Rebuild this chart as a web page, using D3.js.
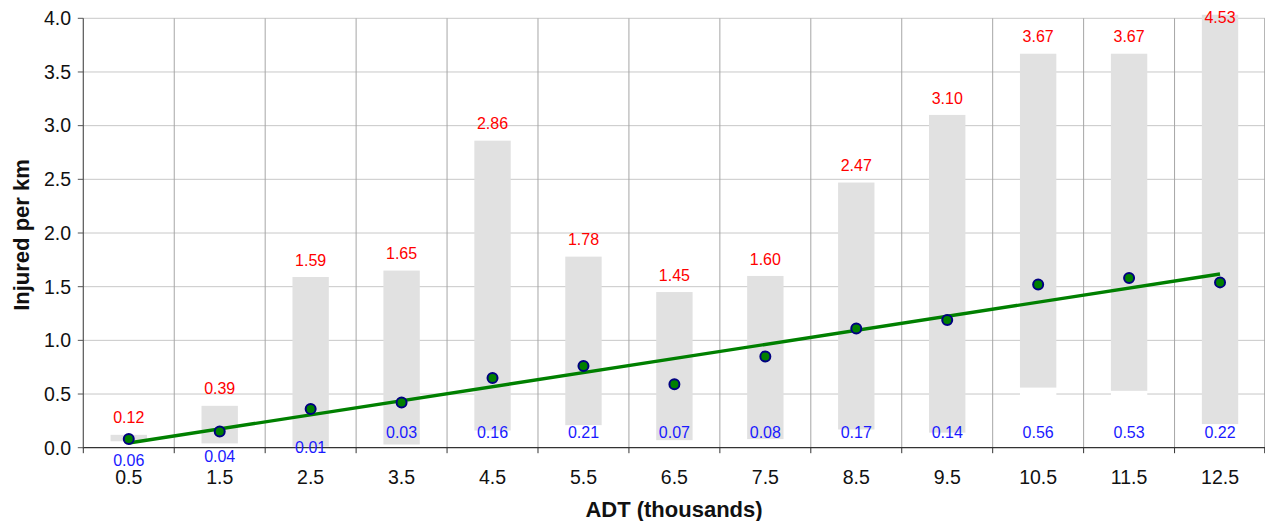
<!DOCTYPE html>
<html>
<head>
<meta charset="utf-8">
<script src="https://cdn.jsdelivr.net/npm/d3@7"></script>
<style>
  html, body { margin: 0; padding: 0; background: #fff; }
  svg { display: block; font-family: Arial, "Liberation Sans", sans-serif; }
</style>
</head>
<body>
<svg id="chart" width="1265" height="521"></svg>
<script>
// ADT classes (thousands of vehicles per day)
const categories = ["0.5", "1.5", "2.5", "3.5", "4.5", "5.5", "6.5", "7.5", "8.5", "9.5", "10.5", "11.5", "12.5"];
// Range of injured per km within each class
const maxValues = [0.12, 0.39, 1.59, 1.65, 2.86, 1.78, 1.45, 1.60, 2.47, 3.10, 3.67, 3.67, 4.53];
const minValues = [0.06, 0.04, 0.01, 0.03, 0.16, 0.21, 0.07, 0.08, 0.17, 0.14, 0.56, 0.53, 0.22];
// Mean injured per km within each class
const meanValues = [0.08, 0.15, 0.36, 0.42, 0.65, 0.76, 0.59, 0.85, 1.11, 1.19, 1.52, 1.58, 1.54];
const yTicks = [0, 0.5, 1, 1.5, 2, 2.5, 3, 3.5, 4];

const svg = d3.select("#chart");
const plotLeft = 83.3, plotRight = 1265.5, plotTop = 18.3, plotBottom = 447.7;

const x = d3.scaleBand().domain(categories).range([plotLeft, plotRight]).paddingInner(0).paddingOuter(0);
const y = d3.scaleLinear().domain([0, 4]).range([plotBottom, plotTop]);
const barW = x.bandwidth() * 0.4;
const cx = c => x(c) + x.bandwidth() / 2;

// clip for the bars (slightly taller than the plot area)
svg.append("defs").append("clipPath").attr("id", "plotClip")
  .append("rect").attr("x", plotLeft).attr("y", plotTop - 3.5)
  .attr("width", plotRight - plotLeft).attr("height", plotBottom - plotTop + 3.5);

// horizontal gridlines
svg.append("g").selectAll("line").data(yTicks.slice(1)).join("line")
  .attr("x1", plotLeft).attr("x2", plotRight)
  .attr("y1", d => y(d)).attr("y2", d => y(d))
  .attr("stroke", "#c8c8c8").attr("stroke-width", 1);

// vertical gridlines at class boundaries
const bounds = categories.map(c => x(c)).concat([plotRight - 0.8]);
svg.append("g").selectAll("line").data(bounds.slice(1)).join("line")
  .attr("x1", d => d).attr("x2", d => d)
  .attr("y1", plotTop).attr("y2", plotBottom)
  .attr("stroke", "#a6a6a6").attr("stroke-width", 1);

// bars: white base from 0 to min, grey range from min to max
const bars = svg.append("g").attr("clip-path", "url(#plotClip)");
bars.selectAll("rect.base").data(categories).join("rect").attr("class", "base")
  .attr("x", d => cx(d) - barW / 2).attr("width", barW)
  .attr("y", (d, i) => y(minValues[i])).attr("height", (d, i) => y(0) - y(minValues[i]))
  .attr("fill", "#ffffff");
bars.selectAll("rect.range").data(categories).join("rect").attr("class", "range")
  .attr("x", d => cx(d) - barW / 2).attr("width", barW)
  .attr("y", (d, i) => y(maxValues[i])).attr("height", (d, i) => y(minValues[i]) - y(maxValues[i]))
  .attr("fill", "#e1e1e1");

// axes lines
svg.append("line").attr("x1", plotLeft).attr("x2", plotLeft).attr("y1", plotTop).attr("y2", plotBottom + 0.5)
  .attr("stroke", "#555").attr("stroke-width", 1.2);
svg.append("line").attr("x1", plotLeft).attr("x2", plotRight).attr("y1", plotBottom).attr("y2", plotBottom)
  .attr("stroke", "#333").attr("stroke-width", 1.2);

// y ticks and labels
svg.append("g").selectAll("line").data(yTicks).join("line")
  .attr("x1", plotLeft - 5.5).attr("x2", plotLeft).attr("y1", d => y(d)).attr("y2", d => y(d))
  .attr("stroke", "#555");
svg.append("g").selectAll("text").data(yTicks).join("text")
  .attr("x", 71).attr("y", d => y(d)).attr("dy", "0.35em")
  .attr("text-anchor", "end").attr("font-size", 19.5).attr("fill", "#111")
  .text(d => d3.format(".1f")(d));

// x ticks at class boundaries and labels
svg.append("g").selectAll("line").data(bounds).join("line")
  .attr("x1", d => d).attr("x2", d => d).attr("y1", plotBottom).attr("y2", plotBottom + 5.5)
  .attr("stroke", "#333");
svg.append("g").selectAll("text").data(categories).join("text")
  .attr("x", d => cx(d)).attr("y", 483.8)
  .attr("text-anchor", "middle").attr("font-size", 19.5).attr("fill", "#111")
  .text(d => d);

// linear trend through the class means
const xs = d3.range(categories.length);
const mx = d3.mean(xs), my = d3.mean(meanValues);
const slope = d3.sum(xs, i => (i - mx) * (meanValues[i] - my)) / d3.sum(xs, i => (i - mx) ** 2);
const intercept = my - slope * mx;
const trend = [0, categories.length - 1].map(i => [cx(categories[i]), y(intercept + slope * i)]);
svg.append("path").attr("d", d3.line()(trend))
  .attr("stroke", "#008000").attr("stroke-width", 3.4).attr("fill", "none");

// mean markers
svg.append("g").selectAll("circle").data(categories).join("circle")
  .attr("cx", d => cx(d)).attr("cy", (d, i) => y(meanValues[i])).attr("r", 5)
  .attr("fill", "#008000").attr("stroke", "#000080").attr("stroke-width", 2);

// max labels above the bars
svg.append("g").selectAll("text").data(categories).join("text")
  .attr("x", d => cx(d)).attr("y", (d, i) => Math.max(17, y(maxValues[i]) - 17))
  .attr("dy", "0.35em").attr("text-anchor", "middle")
  .attr("font-size", 16).attr("fill", "#ff0000")
  .text((d, i) => d3.format(".2f")(maxValues[i]));

// min labels along the base; the smallest bars push theirs lower
const minLabelNudge = [28, 24, 15, 0, 0, 0, 0, 0, 0, 0, 0, 0, 0];
svg.append("g").selectAll("text").data(categories).join("text")
  .attr("x", d => cx(d)).attr("y", (d, i) => y(0) - 15.7 + minLabelNudge[i])
  .attr("dy", "0.35em").attr("text-anchor", "middle")
  .attr("font-size", 16).attr("fill", "#1a1aff")
  .text((d, i) => d3.format(".2f")(minValues[i]));

// axis titles
svg.append("text").attr("x", 674).attr("y", 517)
  .attr("text-anchor", "middle").attr("font-size", 22).attr("font-weight", "bold").attr("fill", "#111")
  .text("ADT (thousands)");
svg.append("text").attr("transform", "translate(28.5,235) rotate(-90)")
  .attr("text-anchor", "middle").attr("font-size", 22).attr("font-weight", "bold").attr("fill", "#111")
  .text("Injured per km");
</script>
</body>
</html>
